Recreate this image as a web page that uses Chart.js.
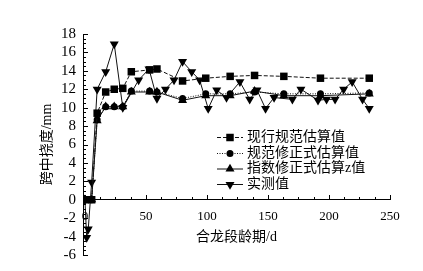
<!DOCTYPE html>
<html>
<head>
<meta charset="utf-8">
<script src="https://cdn.jsdelivr.net/npm/chart.js@4/dist/chart.umd.min.js"></script>
<style>
html,body{margin:0;padding:0;background:#fff;}
#wrap{width:423px;height:271px;position:relative;}
</style>
</head>
<body>
<div id="wrap"><canvas id="c" width="423" height="271"></canvas></div>
<script>
// ---- data ----
const seriesNames = ['现行规范估算值', '规范修正式估算值', '指数修正式估算z值', '实测值'];
const xEst = [0, 5.5, 10, 17, 24, 31, 38, 53, 59, 80, 99, 119, 139, 163, 193, 233];
const yCurrent = [0, 0, 9.4, 11.7, 12.0, 12.1, 13.9, 14.1, 14.2, 12.9, 13.2, 13.4, 13.5, 13.4, 13.2, 13.2];
const yCorrected = [0, 0, 8.7, 10.1, 10.1, 10.1, 11.8, 11.8, 11.7, 11.0, 11.5, 11.5, 11.7, 11.5, 11.5, 11.6];
const yIndex = [0, 0, 8.6, 10.1, 10.1, 10.1, 11.7, 11.7, 11.7, 10.8, 11.3, 11.3, 11.8, 11.3, 11.3, 11.5];
const xMeas = [0, 1.4, 2.7, 5.5, 10, 17, 24, 31, 44, 52.5, 59, 66, 73, 80, 87.5, 94, 101, 108, 116, 127, 135, 141, 148, 155, 170, 177, 191, 198, 205, 212, 219, 227.5, 233];
const yMeas = [0, -4.1, -3.2, 1.9, 12.0, 13.9, 16.9, 10.0, 13.0, 14.2, 11.0, 12.0, 13.0, 15.0, 13.9, 13.0, 9.9, 11.9, 11.1, 12.8, 10.9, 11.9, 9.9, 11.1, 10.9, 12.0, 10.8, 10.9, 10.9, 12.0, 12.8, 10.9, 9.9];
const xTickValues = [0, 50, 100, 150, 200, 250];
const yTickValues = [-6, -4, -2, 0, 2, 4, 6, 8, 10, 12, 14, 16, 18];
const xTitle = '合龙段龄期/d';
const yTitle = '跨中挠度/mm';

const FONT = "'Liberation Serif','Times New Roman','Noto Sans CJK SC',serif";
const pts = (xs, ys) => xs.map((x, i) => ({x: x, y: ys[i]}));

const styles = [
  {pointStyle: 'rect', radius: 5.3, rotation: 0, dash: [4, 2]},
  {pointStyle: 'circle', radius: 3.5, rotation: 0, dash: [1, 1.5]},
  {pointStyle: 'triangle', radius: 5.2, rotation: 0, dash: []},
  {pointStyle: 'triangle', radius: 5.2, rotation: 180, dash: []}
];
const allData = [pts(xEst, yCurrent), pts(xEst, yCorrected), pts(xEst, yIndex), pts(xMeas, yMeas)];

const datasets = allData.map((d, i) => ({
  label: seriesNames[i],
  data: d,
  borderColor: '#111',
  backgroundColor: '#000',
  borderWidth: 1,
  borderDash: styles[i].dash,
  pointStyle: styles[i].pointStyle,
  pointRadius: styles[i].radius,
  pointRotation: styles[i].rotation,
  pointBorderWidth: 0,
  pointBackgroundColor: '#000',
  tension: 0,
  fill: false
}));

const tickPlugin = {
  id: 'innerTicks',
  afterDraw(chart) {
    const ctx = chart.ctx, xs = chart.scales.x, ys = chart.scales.y;
    const x0 = chart.chartArea.left;
    const y0 = ys.getPixelForValue(0);
    ctx.save();
    ctx.strokeStyle = '#000';
    ctx.lineWidth = 1;
    ctx.beginPath();
    for (let v = -6; v <= 18.001; v += 0.5) {
      const len = (Math.abs(v % 2) < 1e-6) ? 5 : 3;
      const p = Math.round(ys.getPixelForValue(v)) + 0.5;
      ctx.moveTo(x0, p); ctx.lineTo(x0 + len, p);
    }
    for (let v = 0; v <= 250.001; v += 12.5) {
      const len = (Math.abs(v % 50) < 1e-6) ? 5 : 3;
      const p = Math.round(xs.getPixelForValue(v)) + 0.5;
      ctx.moveTo(p, Math.round(y0)); ctx.lineTo(p, Math.round(y0) - len);
    }
    ctx.stroke();
    ctx.restore();
  }
};

const legendPlugin = {
  id: 'customLegend',
  afterDraw(chart) {
    const ctx = chart.ctx;
    const rowsY = [137, 153, 168.5, 184];
    ctx.save();
    seriesNames.forEach((name, i) => {
      const y = rowsY[i];
      ctx.strokeStyle = '#111';
      ctx.lineWidth = 1;
      ctx.setLineDash(styles[i].dash);
      ctx.beginPath();
      ctx.moveTo(217, y + 0.5); ctx.lineTo(243, y + 0.5);
      ctx.stroke();
      ctx.setLineDash([]);
      ctx.fillStyle = '#000';
      Chart.helpers.drawPoint(ctx, {pointStyle: styles[i].pointStyle, radius: styles[i].radius, rotation: styles[i].rotation, borderWidth: 0}, 230, y + 0.5);
      ctx.fillStyle = '#000';
      ctx.font = '14px ' + FONT;
      ctx.textAlign = 'left';
      ctx.textBaseline = 'middle';
      ctx.fillText(name, 247, y);
    });
    ctx.restore();
  }
};

new Chart(document.getElementById('c'), {
  type: 'line',
  data: {datasets: datasets},
  options: {
    responsive: false,
    animation: false,
    devicePixelRatio: 1,
    layout: {padding: {left: 0, right: 33, top: 34, bottom: 16}},
    plugins: {legend: {display: false}, tooltip: {enabled: false}},
    scales: {
      x: {
        type: 'linear',
        position: {y: 0},
        min: -1.6,
        max: 250,
        afterBuildTicks: (s) => { s.ticks = xTickValues.map(v => ({value: v})); },
        afterFit: (s) => { s.height = 46; },
        grid: {display: false, drawTicks: false},
        border: {display: true, color: '#000', width: 1},
        ticks: {color: '#000', padding: 9, font: {family: FONT, size: 13}, maxRotation: 0, autoSkip: false},
        title: {display: true, text: xTitle, color: '#000', font: {family: FONT, size: 14}, padding: {top: 0, bottom: 0}}
      },
      y: {
        type: 'linear',
        position: 'left',
        min: -6,
        max: 18,
        afterBuildTicks: (s) => { s.ticks = yTickValues.map(v => ({value: v})); },
        afterFit: (s) => { s.width = 83; },
        grid: {display: false, drawTicks: false},
        border: {display: true, color: '#000', width: 1},
        ticks: {autoSkip: false, color: '#000', padding: 7, font: {family: FONT, size: 15}},
        title: {display: true, text: yTitle, color: '#000', font: {family: FONT, size: 14}, padding: {top: 39, bottom: 0}}
      }
    }
  },
  plugins: [tickPlugin, legendPlugin]
});
</script>
</body>
</html>
